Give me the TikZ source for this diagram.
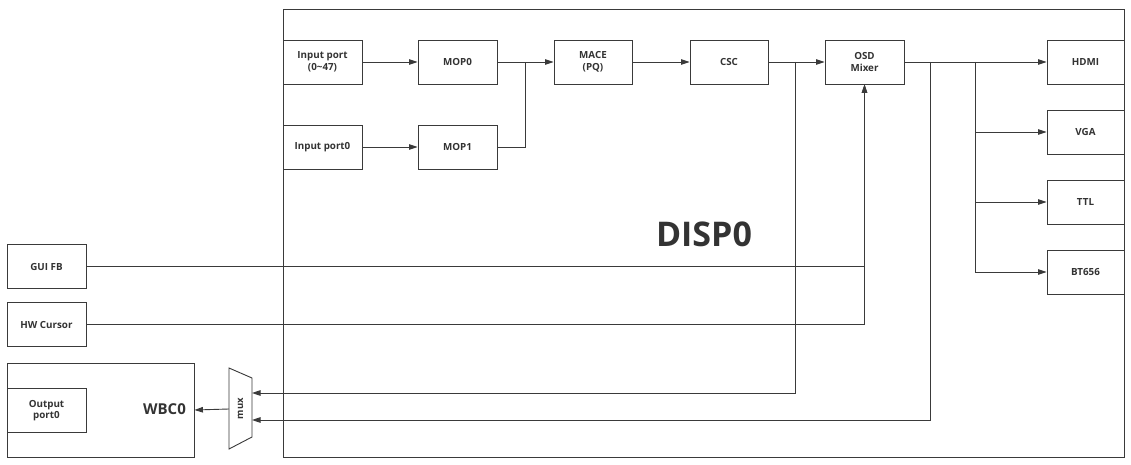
\documentclass[tikz,border=0pt]{standalone}
\usepackage{fontspec}
\setmainfont{Open Sans}
\usetikzlibrary{arrows.meta}
\definecolor{lc}{HTML}{3A3A3A}
\definecolor{tc}{HTML}{333333}
\begin{document}
\begin{tikzpicture}[x=1pt,y=-1pt,
  line width=0.9pt,
  blk/.style={draw=lc, fill=white, text=tc, font=\bfseries\fontsize{9.8}{11.5}\selectfont,
    align=center, inner sep=0pt, minimum height=44pt, minimum width=79pt},
  wire/.style={draw=lc},
  arr/.style={draw=lc, -{Triangle[length=8.5pt,width=5.5pt]}}]
\useasboundingbox (0,0) rectangle (1131,465);
\fill[white] (0,0) rectangle (1131,465);

% DISP0 frame
\node[draw=lc, minimum width=841pt, minimum height=448pt, inner sep=0pt] (disp) at (703.5,233) {};
\node[text=tc, font=\bfseries\fontsize{34}{40}\selectfont] (displabel) at (704,234) {DISP0};

% row 1
\node[blk] (in1) at (322.5,62) {Input port\\(0\textasciitilde47)};
\node[blk] (mop0) at (457.5,62) {MOP0};
\node[blk, minimum width=78pt] (mace) at (593,62) {MACE\\(PQ)};
\node[blk, minimum width=78pt] (csc) at (729,62) {CSC};
\node[blk] (osd) at (864.5,62) {OSD\\Mixer};
% row 2
\node[blk] (in0) at (322.5,147) {Input port0};
\node[blk] (mop1) at (457.5,147) {MOP1};
% outputs
\node[blk, minimum width=77pt] (hdmi) at (1085.5,62) {HDMI};
\node[blk, minimum width=77pt] (vga) at (1085.5,132) {VGA};
\node[blk, minimum width=77pt] (ttl) at (1085.5,202) {TTL};
\node[blk, minimum width=77pt] (bt) at (1085.5,272) {BT656};
% left sources
\node[blk] (gui) at (46.5,266.5) {GUI FB};
\node[blk] (hw) at (46.5,324.5) {HW Cursor};
% WBC0
\node[blk, minimum width=187pt, minimum height=94pt] (wbc) at (100.5,410) {};
\node[blk] (outp) at (46.5,410.5) {Output\\port0};
\node[text=tc, font=\bfseries\fontsize{15}{17}\selectfont] (wbclabel) at (164.5,409) {WBC0};

% mux
\draw[lc] (229,368) -- (252,378) -- (252,437) -- (229,449) -- cycle;
\node[text=tc, font=\bfseries\fontsize{9.5}{11}\selectfont, rotate=90] (muxlabel) at (240.5,408.5) {mux};
\coordinate (mo) at (229,409);
\coordinate (mi1) at (252,393);
\coordinate (mi2) at (252,420);

% connectors
\draw[arr] (in1.east) -- (mop0.west);
\draw[arr] (in0.east) -- (mop1.west);
\coordinate (j1) at (525,62);
\draw[arr] (mop0.east) -- (mace.west);
\draw[wire] (mop1.east) -| (j1);
\draw[arr] (mace.east) -- (csc.west);
\draw[arr] (csc.east) -- (osd.west);
\draw[arr] (osd.east) -- (hdmi.west);
\coordinate (b1) at (975,62);
\draw[arr] (b1) |- (bt.west);
\draw[arr] (b1 |- vga.west) -- (vga.west);
\draw[arr] (b1 |- ttl.west) -- (ttl.west);
\draw[arr] (gui.east) -| (osd.south);
\draw[arr] (hw.east) -| (osd.south);
\coordinate (c1) at (795,62);
\coordinate (c2) at (930,62);
\draw[arr] (c1) |- (mi1);
\draw[arr] (c2) |- (mi2);
\draw[arr] (mo) -- (wbc.east);
\end{tikzpicture}
\end{document}
